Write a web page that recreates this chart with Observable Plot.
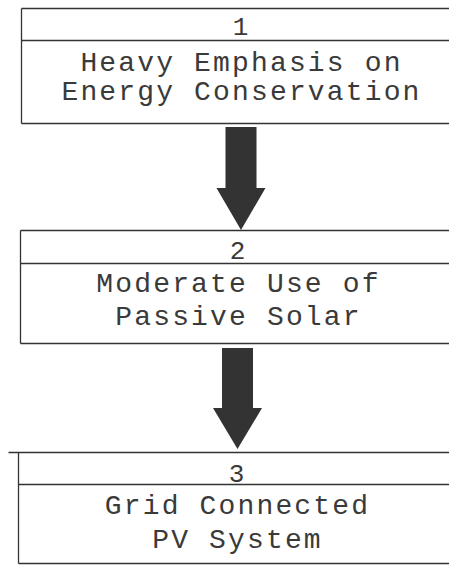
<!DOCTYPE html>
<html><head><meta charset="utf-8">
<script src="https://cdn.jsdelivr.net/npm/d3@7"></script>
<script src="https://cdn.jsdelivr.net/npm/@observablehq/plot@0.6"></script>
<style>body{margin:0;background:#fff;overflow:hidden}
.stage-text text{letter-spacing:2.15px}</style>
</head><body><div id="chart"></div>
<script>
// Stages of the flow
const stageNumbers = ["1", "2", "3"];
const stageLines = [
  ["Heavy Emphasis on", "Energy Conservation"],
  ["Moderate Use of", "Passive Solar"],
  ["Grid Connected", "PV System"]
];
// Layout (diagram coordinates in pixels)
const boxLeft = [21, 20, 18];
const boxLineStart = [21, 20, 8];
const boxTop = [8, 230, 452];
const boxDivider = [40, 263, 484];
const boxBottom = [123, 343, 563];
const numberY = [26, 250, 473];
const lineY = [[62, 91], [283, 316], [505, 539]];
const textX = [240, 237, 236];
const arrowTop = [127, 348];
const arrowNeck = [188, 408];
const arrowTip = [230, 449];
const arrowCenter = [241, 237.5];
const shaftHalf = 15.5;
const headHalf = 24.5;

const rightEdge = 449;
const hLines = stageNumbers.flatMap((n, i) => [
  {x1: boxLineStart[i], x2: rightEdge, y: boxTop[i]},
  {x1: boxLeft[i], x2: rightEdge, y: boxDivider[i]},
  {x1: boxLeft[i], x2: rightEdge, y: boxBottom[i]}
]);
const vLines = stageNumbers.map((n, i) => ({x: boxLeft[i], y1: boxTop[i], y2: boxBottom[i]}));
const numbers = stageNumbers.map((n, i) => ({x: textX[i], y: numberY[i], t: n}));
const lines = stageLines.flatMap((ls, i) => ls.map((t, j) => ({x: textX[i] + 1, y: lineY[i][j], t})));
const arrowPts = arrowTop.flatMap((top, i) => {
  const c = arrowCenter[i];
  return [
    {k: i, y: top, x1: c - shaftHalf, x2: c + shaftHalf},
    {k: i, y: arrowNeck[i], x1: c - shaftHalf, x2: c + shaftHalf},
    {k: i, y: arrowNeck[i], x1: c - headHalf, x2: c + headHalf},
    {k: i, y: arrowTip[i], x1: c, x2: c}
  ];
});

const ink = "#3a3a3a";
const font = "'Liberation Mono', 'Courier New', monospace";

const plot = Plot.plot({
  width: 449, height: 565,
  margin: 0,
  x: {domain: [0, 449], axis: null},
  y: {domain: [0, 565], reverse: true, axis: null},
  style: {background: "#fff", fontFamily: font},
  marks: [
    Plot.link(hLines, {x1: "x1", x2: "x2", y1: "y", y2: "y", stroke: "#333", strokeWidth: 1.3}),
    Plot.link(vLines, {x1: "x", x2: "x", y1: "y1", y2: "y2", stroke: "#333", strokeWidth: 1.3}),
    Plot.areaX(arrowPts, {y: "y", x1: "x1", x2: "x2", z: "k", fill: "#333", curve: "linear"}),
    Plot.text(numbers, {x: "x", y: "y", text: "t", fontSize: 26, fill: ink, fontFamily: font}),
    Plot.text(lines, {x: "x", y: "y", text: "t", fontSize: 28, fill: ink, fontFamily: font, className: "stage-text"})
  ]
});
document.getElementById("chart").append(plot);
</script>
</body></html>
